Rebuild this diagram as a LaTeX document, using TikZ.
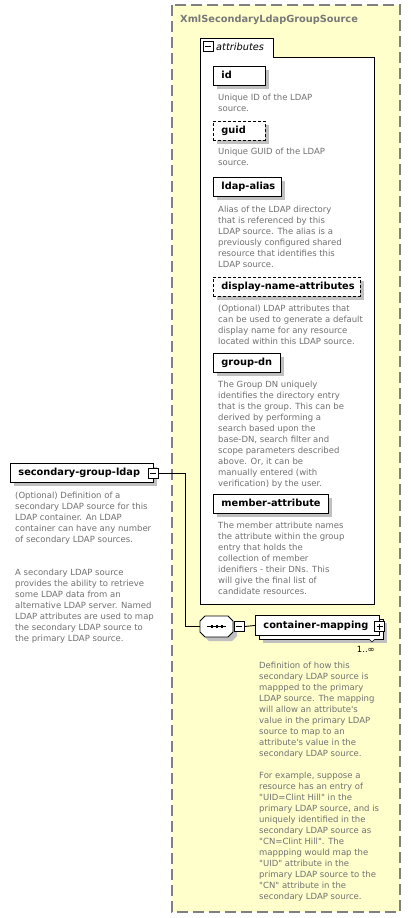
\documentclass[tikz,border=0pt]{standalone}
\usepackage{fontspec}
\setmainfont{DejaVu Sans}[Ligatures=TeXOff]
\usetikzlibrary{shadows}
\definecolor{bgyellow}{RGB}{255,255,204}
\definecolor{bordergray}{RGB}{128,128,128}
\definecolor{descgray}{RGB}{112,112,112}
\definecolor{titlegray}{RGB}{120,120,120}
\definecolor{shadowgray}{RGB}{192,192,192}
\newcommand\descf{\fontsize{8.5}{11}\selectfont}
\newcommand\lblf{\fontsize{9.8}{11}\selectfont\bfseries}
\newcommand\elab[2]{\makebox[#1][l]{\hspace{8pt}#2}}
\newcommand\dtext[1]{\parbox[t]{180pt}{\raggedright\descf #1}}
\tikzset{
  shad/.style={drop shadow={opacity=1, fill=shadowgray, shadow xshift=4pt, shadow yshift=-4pt}},
  elbox/.style={draw, fill=white, line width=0.9pt, font=\lblf, anchor=north west, inner sep=0pt,
    minimum height=19pt, text height=7.5pt, text depth=2pt},
  elem/.style={elbox, shad},
  opt/.style={dash pattern=on 3pt off 2pt},
  desc/.style={anchor=base west, inner sep=0pt, text=descgray},
  minusbox/.style={draw, fill=white, line width=0.9pt, minimum size=10pt, inner sep=0pt,
    path picture={\draw[line width=0.9pt] ([xshift=2pt]path picture bounding box.west) -- ([xshift=-2pt]path picture bounding box.east);}},
  plusbox/.style={draw, fill=white, line width=0.9pt, minimum size=10pt, inner sep=0pt,
    path picture={\draw[line width=0.9pt] ([xshift=2pt]path picture bounding box.west) -- ([xshift=-2pt]path picture bounding box.east);
      \draw[line width=0.9pt] ([yshift=2pt]path picture bounding box.south) -- ([yshift=-2pt]path picture bounding box.north);}},
  conn/.style={line width=0.9pt},
}
\begin{document}
\begin{tikzpicture}[x=1pt,y=-1pt]
\useasboundingbox[fill=white] (0,0) rectangle (411,918);
% outer complex type box
\draw[fill=bgyellow, draw=bordergray, line width=1.4pt, dash pattern=on 11pt off 5pt] (172,5) rectangle (400,912);
\node[anchor=base west, inner sep=0pt, font=\lblf, text=titlegray] (title) at (180,22) {XmlSecondaryLdapGroupSource};
% attributes tab box
\draw[fill=white, line width=0.9pt] (200,604) -- (200,38) -- (273,38) -- (273,57) -- (374,57) -- (374,604) -- cycle;
\node[minusbox] (tabm) at (208,46) {};
\node[anchor=base west, inner sep=0pt, font=\fontsize{9.8}{11}\selectfont\itshape] (attrl) at (216,50) {attributes};
% attributes
\node[elem] (id) at (213,66) {\elab{52pt}{id}};
\node[desc] (idd) at (218,100) {\dtext{Unique ID of the LDAP\\source.}};
\node[elem,opt] (guid) at (213,121) {\elab{52pt}{guid}};
\node[desc] (guidd) at (218,154.5) {\dtext{Unique GUID of the LDAP\\source.}};
\node[elem] (alias) at (213,177) {\elab{68pt}{ldap-alias}};
\node[desc] (aliasd) at (218,212) {\dtext{Alias of the LDAP directory\\that is referenced by this\\LDAP source. The alias is a\\previously configured shared\\resource that identifies this\\LDAP source.}};
\node[elem,opt] (dna) at (213,277) {\elab{147pt}{display-name-attributes}};
\node[desc] (dnad) at (218,311) {\dtext{(Optional) LDAP attributes that\\can be used to generate a default\\display name for any resource\\located within this LDAP source.}};
\node[elem] (gdn) at (213,353) {\elab{67pt}{group-dn}};
\node[desc] (gdnd) at (218,387) {\dtext{The Group DN uniquely\\identifies the directory entry\\that is the group. This can be\\derived by performing a\\search based upon the\\base-DN, search filter and\\scope parameters described\\above. Or, it can be\\manually entered (with\\verification) by the user.}};
\node[elem] (ma) at (213,494) {\elab{115pt}{member-attribute}};
\node[desc] (mad) at (218,528) {\dtext{The member attribute names\\the attribute within the group\\entry that holds the\\collection of member\\idenifiers - their DNs. This\\will give the final list of\\candidate resources.}};
% left element
\node[elem] (sgl) at (10,463) {\elab{143pt}{secondary-group-ldap}};
\node[minusbox] (sglm) at (153,473.5) {};
\node[desc] (sgld) at (15,498) {\dtext{(Optional) Definition of a\\secondary LDAP source for this\\LDAP container. An LDAP\\container can have any number\\of secondary LDAP sources.\\[22pt]A secondary LDAP source\\provides the ability to retrieve\\some LDAP data from an\\alternative LDAP server. Named\\LDAP attributes are used to map\\the secondary LDAP source to\\the primary LDAP source.}};
% sequence compositor
\fill[shadowgray] (204,625)--(209,620)--(232,620)--(237,625)--(237,636)--(232,641)--(209,641)--(204,636)--cycle;
\draw[fill=white, line width=0.9pt] (200,621)--(205,616)--(228,616)--(233,621)--(233,632)--(228,637)--(205,637)--(200,632)--cycle;
\node[inner sep=0pt, minimum width=33pt, minimum height=21pt] (seq) at (216.5,626.5) {};
\draw[line width=0.9pt] (207,626.5) -- (226,626.5);
\fill (210.5,625) rectangle (213,628);
\fill (215.5,625) rectangle (218,628);
\fill (220.5,625) rectangle (223,628);
\node[minusbox] (seqm) at (239,626.5) {};
% container-mapping
\node[draw, fill=white, line width=0.9pt, anchor=north west, minimum width=124pt, minimum height=20pt, inner sep=0pt, shad] (cmback) at (259,619) {};
\node[elbox, minimum height=20pt] (cm) at (255,615) {\elab{124pt}{container-mapping}};
\node[plusbox] (cmp) at (379.5,626.5) {};
\draw[fill=white, line width=0.6pt] (369,639) -- (372,642) -- (375,639);
\node[anchor=base east, inner sep=0pt, font=\descf] (mult) at (375,652) {1..∞};
\node[desc] (cmd) at (259,668) {\dtext{Definition of how this\\secondary LDAP source is\\mappped to the primary\\LDAP source. The mapping\\will allow an attribute's\\value in the primary LDAP\\source to map to an\\attribute's value in the\\secondary LDAP source.\\[11pt]For example, suppose a\\resource has an entry of\\"UID=Clint Hill" in the\\primary LDAP source, and is\\uniquely identified in the\\secondary LDAP source as\\"CN=Clint Hill". The\\mappping would map the\\"UID" attribute in the\\primary LDAP source to the\\"CN" attribute in the\\secondary LDAP source.}};
% connectors
\coordinate (j1) at (185,473.5);
\coordinate (j2) at (185,626.5);
\draw[conn] (sglm.east) -- (j1) -- (j2) -- (seq.west);
\draw[conn] (seqm.east) -- (cm.west);
\end{tikzpicture}
\end{document}
